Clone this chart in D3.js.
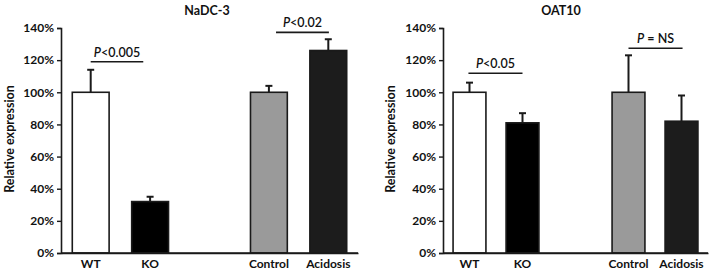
<!DOCTYPE html>
<html>
<head>
<meta charset="utf-8">
<script src="https://cdn.jsdelivr.net/npm/d3@7"></script>
<style>
  html, body { margin: 0; padding: 0; background: #fff; }
  svg { display: block; font-family: Lato, "Open Sans", sans-serif; }
</style>
</head>
<body>
<svg id="chart" width="709" height="273"></svg>
<script>
// ---- data ----
const categories = ["WT", "KO", "", "Control", "Acidosis"];
const barCategories = ["WT", "KO", "Control", "Acidosis"];
const barFills = ["#ffffff", "#000000", "#9a9a9a", "#1c1c1c"];

const titles = ["NaDC-3", "OAT10"];
const nadc3Values = [100, 32, 100, 126];
const nadc3ErrorTops = [114, 35, 104, 133];
const oat10Values = [100, 81, 100, 82];
const oat10ErrorTops = [106, 87, 123, 98];

const yTicks = [0, 20, 40, 60, 80, 100, 120, 140];
const yLabel = "Relative expression";

// significance brackets: from/to category, shift in band steps, level in % units
const nadc3Brackets = [
  { from: "WT", to: "KO", fromShift: 0, toShift: -0.115, level: 119, italic: "P", rest: "<0.005" },
  { from: "Control", to: "Acidosis", fromShift: 0.12, toShift: 0.01, level: 137.3, italic: "P", rest: "<0.02" }
];
const oat10Brackets = [
  { from: "WT", to: "KO", fromShift: -0.02, toShift: 0, level: 111.8, italic: "P", rest: "<0.05" },
  { from: "Control", to: "Acidosis", fromShift: 0, toShift: 0.02, level: 127.4, italic: "P", rest: " = NS" }
];

const panels = [
  { title: titles[0], values: nadc3Values, errs: nadc3ErrorTops, brackets: nadc3Brackets,
    x0: 61, x1: 358, labelX: 10, titleX: 207 },
  { title: titles[1], values: oat10Values, errs: oat10ErrorTops, brackets: oat10Brackets,
    x0: 443, x1: 708, labelX: 391, titleX: 561 }
];

const svg = d3.select("#chart");
const yTop = 28, yBottom = 253;
const ink = "#1a1a1a";

panels.forEach(p => {
  const g = svg.append("g");
  const x = d3.scaleBand().domain(categories).range([p.x0, p.x1])
    .paddingInner(0.38).paddingOuter(0.19);
  const step = x.step();
  const y = d3.scaleLinear().domain([0, 140]).range([yBottom, yTop]);

  // y axis
  const yAxis = d3.axisLeft(y).tickValues(yTicks).tickSize(4).tickPadding(3)
    .tickFormat(d => d + "%");
  const ya = g.append("g").attr("transform", `translate(${p.x0},0)`).call(yAxis);
  ya.select(".domain").attr("stroke", ink).attr("stroke-width", 1.6);
  ya.selectAll(".tick line").attr("stroke", ink).attr("stroke-width", 1.4);
  ya.selectAll(".tick text").attr("fill", "#111").attr("font-size", 12)
    .attr("font-weight", "bold").attr("font-family", "Lato, sans-serif");

  // x axis
  const xAxis = d3.axisBottom(x).tickValues(barCategories).tickSize(0).tickPadding(6);
  const xa = g.append("g").attr("transform", `translate(0,${yBottom})`).call(xAxis);
  xa.select(".domain").attr("stroke", ink).attr("stroke-width", 1.6);
  xa.selectAll(".tick text").attr("fill", "#111").attr("font-size", 12)
    .attr("font-weight", "bold").attr("font-family", "Lato, sans-serif");

  const rows = barCategories.map((c, i) => ({ c, v: p.values[i], e: p.errs[i], fill: barFills[i] }));

  // error bars (upper only)
  const eb = g.selectAll(".err").data(rows).enter().append("g");
  eb.append("line")
    .attr("x1", d => x(d.c) + x.bandwidth() / 2).attr("x2", d => x(d.c) + x.bandwidth() / 2)
    .attr("y1", d => y(d.v)).attr("y2", d => y(d.e))
    .attr("stroke", ink).attr("stroke-width", 2);
  eb.append("line")
    .attr("x1", d => x(d.c) + x.bandwidth() / 2 - 3.5).attr("x2", d => x(d.c) + x.bandwidth() / 2 + 3.5)
    .attr("y1", d => y(d.e)).attr("y2", d => y(d.e))
    .attr("stroke", ink).attr("stroke-width", 2);

  // bars
  g.selectAll(".bar").data(rows).enter().append("rect")
    .attr("x", d => x(d.c)).attr("width", x.bandwidth())
    .attr("y", d => y(d.v)).attr("height", d => y(0) - y(d.v))
    .attr("fill", d => d.fill).attr("stroke", ink).attr("stroke-width", 1.6);

  // redraw baseline on top
  g.append("line").attr("x1", p.x0).attr("x2", p.x1).attr("y1", yBottom).attr("y2", yBottom)
    .attr("stroke", ink).attr("stroke-width", 1.6);

  // brackets
  p.brackets.forEach(b => {
    const xa1 = x(b.from) + x.bandwidth() / 2 + b.fromShift * step;
    const xa2 = x(b.to) + x.bandwidth() / 2 + b.toShift * step;
    g.append("line").attr("x1", xa1).attr("x2", xa2).attr("y1", y(b.level)).attr("y2", y(b.level))
      .attr("stroke", ink).attr("stroke-width", 1.6);
    const t = g.append("text").attr("x", (xa1 + xa2) / 2).attr("y", y(b.level) - 5)
      .attr("text-anchor", "middle").attr("font-size", 12.5).attr("fill", "#111")
      .attr("font-weight", 600).attr("xml:space", "preserve");
    t.append("tspan").attr("font-style", "italic").text(b.italic);
    t.append("tspan").text(b.rest);
  });

  // title
  g.append("text").attr("x", p.titleX).attr("y", 15).attr("text-anchor", "middle")
    .attr("font-size", 12.5).attr("font-weight", "bold").attr("fill", "#111").text(p.title);

  // y label
  g.append("text").attr("transform", `translate(${p.labelX + 4},${139}) rotate(-90)`)
    .attr("text-anchor", "middle").attr("font-size", 12.5).attr("font-weight", "bold")
    .attr("fill", "#111").text(yLabel);
});
</script>
</body>
</html>
